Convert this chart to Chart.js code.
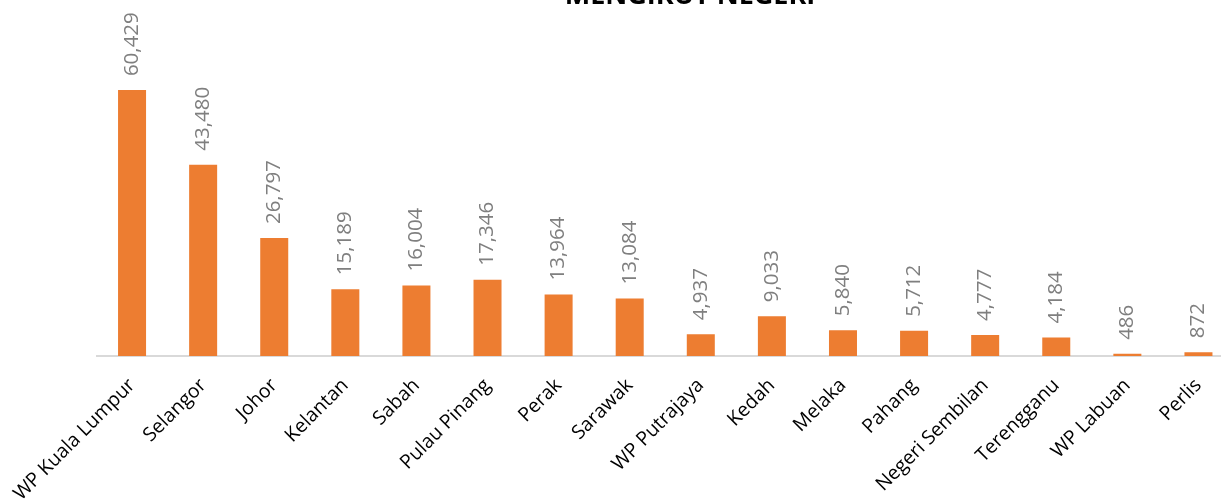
<!DOCTYPE html>
<html>
<head>
<meta charset="utf-8">
<script src="https://cdn.jsdelivr.net/npm/chart.js@4"></script>
<style>
  html, body { margin: 0; padding: 0; background: #fff; overflow: hidden; }
  #wrap { width: 1240px; height: 499px; position: relative; }
</style>
</head>
<body>
<div id="wrap"><canvas id="myChart"></canvas></div>
<script>
const negeri = ['WP Kuala Lumpur', 'Selangor', 'Johor', 'Kelantan', 'Sabah', 'Pulau Pinang', 'Perak', 'Sarawak',
    'WP Putrajaya', 'Kedah', 'Melaka', 'Pahang', 'Negeri Sembilan', 'Terengganu', 'WP Labuan', 'Perlis'];
const bilangan = [60429, 43480, 26797, 15189, 16004, 17346, 13964, 13084, 4937, 9033, 5840, 5712, 4777, 4184, 486, 872];
const tajuk = 'MENGIKUT NEGERI';

// draws the value above each bar, rotated like in the original
const labelNilai = {
    id: 'labelNilai',
    afterDatasetsDraw(chart) {
        const ctx = chart.ctx;
        const meta = chart.getDatasetMeta(0);
        ctx.save();
        ctx.fillStyle = '#7f7f7f';
        ctx.font = '20.5px "Open Sans"';
        ctx.textAlign = 'left';
        ctx.textBaseline = 'middle';
        meta.data.forEach((bar, i) => {
            ctx.save();
            ctx.translate(bar.x, bar.y - 14);
            ctx.rotate(-Math.PI / 2);
            ctx.fillText(bilangan[i].toLocaleString('en-US'), 0, 0);
            ctx.restore();
        });
        ctx.restore();
    }
};

// title is cut off at the top of the picture
const tajukAtas = {
    id: 'tajukAtas',
    afterDraw(chart) {
        const ctx = chart.ctx;
        ctx.save();
        ctx.fillStyle = '#000';
        ctx.font = 'bold 27px "Open Sans"';
        ctx.textAlign = 'center';
        ctx.textBaseline = 'alphabetic';
        ctx.fillText(tajuk, 690, 4);
        ctx.restore();
    }
};

const ctx = document.getElementById('myChart').getContext('2d');
const myChart = new Chart(ctx, {
    type: 'bar',
    data: {
        labels: negeri,
        datasets: [{
            data: bilangan,
            backgroundColor: '#ED7D31',
            categoryPercentage: 1,
            barPercentage: 0.394
        }]
    },
    options: {
        responsive: true,
        maintainAspectRatio: false,
        animation: false,
        layout: { padding: { left: 96.5, right: 6, top: 48, bottom: 0 } },
        plugins: {
            legend: { display: false },
            tooltip: { enabled: false }
        },
        scales: {
            x: {
                grid: { display: false, drawTicks: false },
                border: { color: '#d9d9d9', width: 2 },
                ticks: {
                    color: '#000',
                    font: { family: '"Open Sans"', size: 19.5 },
                    maxRotation: 45,
                    minRotation: 45,
                    autoSkip: false,
                    padding: 18
                },
                afterFit(scale) {
                    scale.height = 143;
                    scale.paddingLeft = 0;
                    scale.paddingRight = 0;
                }
            },
            y: {
                display: false,
                min: 0,
                max: 70000
            }
        }
    },
    plugins: [labelNilai, tajukAtas]
});
</script>
</body>
</html>
